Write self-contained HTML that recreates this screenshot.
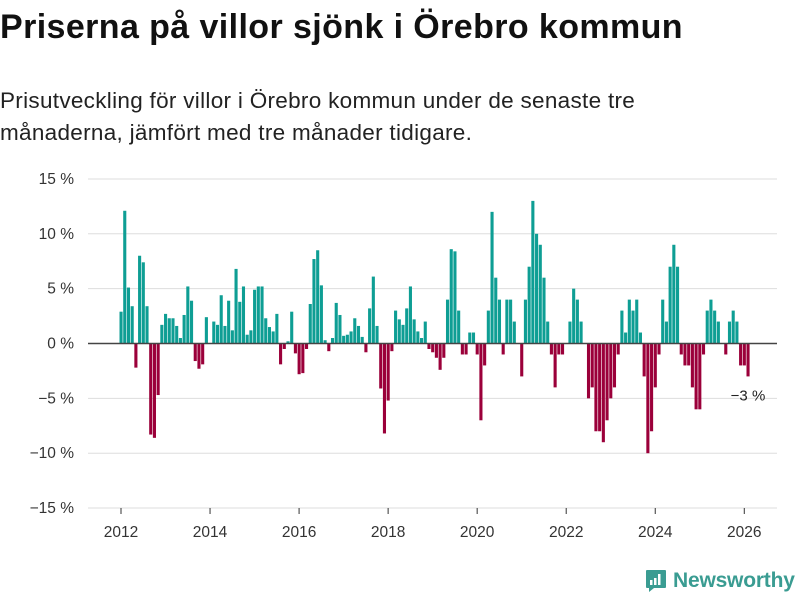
<!DOCTYPE html>
<html><head><meta charset="utf-8"><style>
body{margin:0;background:#fff;font-family:"Liberation Sans","DejaVu Sans",sans-serif;}
#wrap{position:relative;width:800px;height:600px;overflow:hidden;}
h1{position:absolute;left:0;top:8px;margin:0;font-size:34px;font-weight:bold;color:#111;letter-spacing:0.4px;}
p.sub{position:absolute;left:0;top:85px;margin:0;font-size:22.5px;line-height:32px;color:#222;width:700px;letter-spacing:0.3px;}
</style></head><body>
<div id="wrap">
<h1>Priserna på villor sjönk i Örebro kommun</h1>
<p class="sub">Prisutveckling för villor i Örebro kommun under de senaste tre månaderna, jämfört med tre månader tidigare.</p>
<svg id="chart" width="800" height="600" style="position:absolute;left:0;top:0"></svg>
<div style="position:absolute;left:645px;top:569px;display:flex;align-items:center;">
<svg width="22" height="24" viewBox="0 0 22 24"><path d="M2 1h18a1 1 0 0 1 1 1v16a1 1 0 0 1-1 1H9l-5 4v-4H2a1 1 0 0 1-1-1V2a1 1 0 0 1 1-1z" fill="#3a9c92"/><rect x="5" y="11" width="2.5" height="5" fill="#fff"/><rect x="9" y="9" width="2.5" height="7" fill="#fff"/><rect x="13" y="5" width="2.5" height="11" fill="#fff"/></svg>
<span style="font-size:21px;color:#3a9c92;margin-left:6px;font-weight:bold;letter-spacing:-0.2px">Newsworthy</span></div>
</div>
<script>
const values=[2.9,12.1,5.1,3.4,-2.2,8.0,7.4,3.4,-8.3,-8.6,-4.7,1.7,2.7,2.3,2.3,1.6,0.5,2.6,5.2,3.9,-1.6,-2.3,-1.9,2.4,
0,2.0,1.7,4.4,1.6,3.9,1.2,6.8,3.8,5.2,0.8,1.2,4.9,5.2,5.2,2.3,1.5,1.1,2.7,-1.9,-0.5,0.2,2.9,-0.9,
-2.8,-2.7,-0.5,3.6,7.7,8.5,5.3,0.3,-0.7,0.5,3.7,2.6,0.7,0.8,1.1,2.3,1.6,0.6,-0.8,3.2,6.1,1.6,-4.1,-8.2,
-5.2,-0.7,3.0,2.2,1.7,3.2,5.2,2.2,1.1,0.5,2.0,-0.5,-0.8,-1.3,-2.4,-1.3,4.0,8.6,8.4,3.0,-1.0,-1.0,
1.0,1.0,-1.0,-7.0,-2.0,3.0,12.0,6.0,4.0,-1.0,4.0,4.0,2.0,0,-3.0,4.0,7.0,13.0,10.0,9.0,6.0,2.0,
-1.0,-4.0,-1.0,-1.0,0,2.0,5.0,4.0,2.0,0,-5.0,-4.0,-8.0,-8.0,-9.0,-7.0,-5.0,-4.0,-1.0,3.0,1.0,4.0,
3.0,4.0,1.0,-3.0,-10.0,-8.0,-4.0,-1.0,4.0,2.0,7.0,9.0,7.0,-1.0,-2.0,-2.0,-4.0,-6.0,-6.0,-1.0,3.0,4.0,
3.0,2.0,0,-1.0,2.0,3.0,2.0,-2.0,-2.0,-3.0];
const yTicks=[15,10,5,0,-5,-10,-15];
const yTickLabels=["15 %","10 %","5 %","0 %","−5 %","−10 %","−15 %"];
const xTickYears=[2012,2014,2016,2018,2020,2022,2024,2026];
const lastLabel="−3 %";
const NS="http://www.w3.org/2000/svg";
const svg=document.getElementById('chart');
const y=v=>343.5-v*10.97;
const x=i=>121+i*3.71;
const xYear=yr=>x((yr-2012)*12);
function mk(t,a){const e=document.createElementNS(NS,t);for(const k in a)e.setAttribute(k,a[k]);svg.appendChild(e);return e;}
yTicks.forEach((t,k)=>{
  if(t!==0){const g=mk('line',{x1:88,x2:777,y1:y(t),y2:y(t),stroke:'#dddddd','stroke-width':1});
  
  }
  const tx=mk('text',{x:74,y:y(t)+5,'text-anchor':'end','font-size':15.5,fill:'#333','font-family':'Liberation Sans, sans-serif'});
  tx.textContent=yTickLabels[k];
  
  
});
xTickYears.forEach(yr=>{
  const l=mk('line',{x1:xYear(yr),x2:xYear(yr),y1:508,y2:514,stroke:'#333','stroke-width':1});
  
  
  const tx=mk('text',{x:xYear(yr),y:537,'text-anchor':'middle','font-size':15.5,fill:'#333','font-family':'Liberation Sans, sans-serif'});
  tx.textContent=yr;
  
  
});
values.forEach((v,i)=>{
  if(v===0)return;
  const r=mk('rect',{x:x(i)-1.5,y:Math.min(y(v),y(0)),width:3.1,height:Math.abs(y(v)-y(0)),fill:v>0?'#0e9e94':'#9b003a'});
  
  
});
const z=mk('line',{x1:88,x2:777,y1:y(0),y2:y(0),stroke:'#444','stroke-width':1.5});


const li=values.length-1;
const an=mk('text',{x:x(li),y:y(values[li])+24,'text-anchor':'middle','font-size':15,fill:'#222','font-family':'Liberation Sans, sans-serif'});
an.textContent=lastLabel;


</script>
</body></html>
